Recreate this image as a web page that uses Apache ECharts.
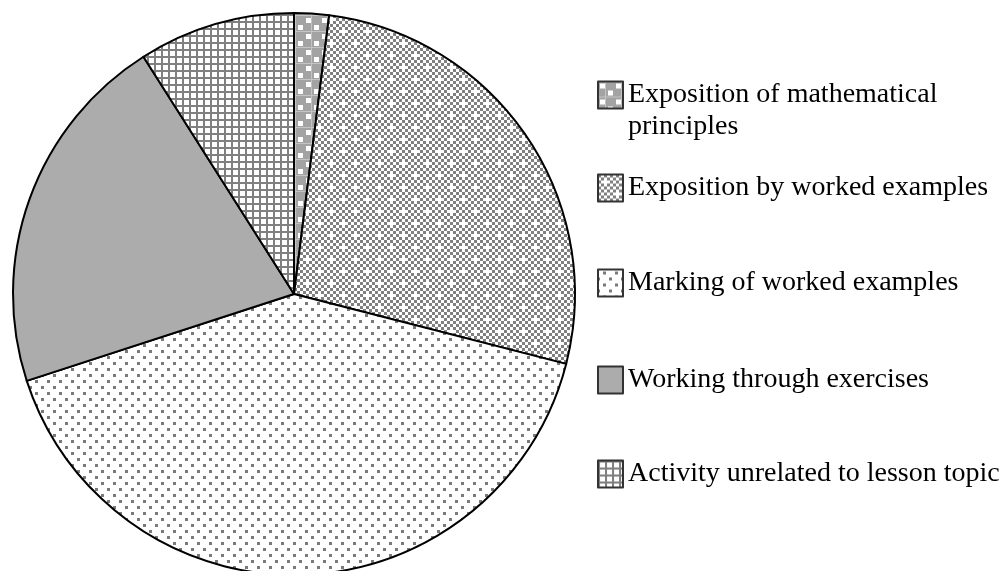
<!DOCTYPE html>
<html>
<head>
<meta charset="utf-8">
<script src="https://cdn.jsdelivr.net/npm/echarts@6/dist/echarts.min.js"></script>
<style>
  html, body { margin: 0; padding: 0; background: #fff; }
  #chart { width: 1001px; height: 571px; }
</style>
</head>
<body>
<div id="chart"></div>
<script>
const categories = [
  'Exposition of mathematical principles',
  'Exposition by worked examples',
  'Marking of worked examples',
  'Working through exercises',
  'Activity unrelated to lesson topic',
]
const shares = [2, 27, 41, 21, 9]

// legend rows (icon centre y in px)
const legendY = [95, 188, 283, 380, 474]

function tile(w, h, draw) {
  const c = document.createElement('canvas')
  c.width = w
  c.height = h
  const ctx = c.getContext('2d')
  draw(ctx)
  return { image: c, repeat: 'repeat' }
}

// grey with white squares
const patPrinciples = tile(16, 16, (ctx) => {
  ctx.fillStyle = '#a3a3a3'
  ctx.fillRect(0, 0, 16, 16)
  ctx.fillStyle = '#c4c4c4'
  ctx.fillRect(0, 15, 16, 1)
  ctx.fillRect(7, 0, 1, 16)
  ctx.fillStyle = '#ffffff'
  ctx.fillRect(2, 2, 5, 5)
  ctx.fillRect(10, 9, 5, 5)
})

// fine checkerboard
const patWorked = tile(24, 24, (ctx) => {
  ctx.fillStyle = '#ffffff'
  ctx.fillRect(0, 0, 24, 24)
  ctx.fillStyle = '#808080'
  for (let y = 0; y < 8; y++) {
    for (let x = 0; x < 8; x++) {
      if ((x + y) % 2 === 0) ctx.fillRect(x * 3, y * 3, 3, 3)
    }
  }
  ctx.fillStyle = '#ffffff'
  ctx.fillRect(6, 6, 3, 3)
  ctx.fillRect(18, 18, 3, 3)
})

// sparse dots
const patMarking = tile(12, 12, (ctx) => {
  ctx.fillStyle = '#ffffff'
  ctx.fillRect(0, 0, 12, 12)
  ctx.fillStyle = '#7a7a7a'
  ctx.fillRect(5, 2, 3, 3)
  ctx.fillRect(11, 8, 3, 3)
  ctx.fillRect(-1, 8, 3, 3)
})

// square grid
const patActivity = tile(7, 7, (ctx) => {
  ctx.fillStyle = '#ffffff'
  ctx.fillRect(0, 0, 7, 7)
  ctx.fillStyle = '#808080'
  ctx.fillRect(0, 0, 7, 2)
  ctx.fillRect(0, 0, 2, 7)
})

const fills = [patPrinciples, patWorked, patMarking, '#acacac', patActivity]

const chart = echarts.init(document.getElementById('chart'))

const textStyle = {
  fontFamily: '"Liberation Serif", "Times New Roman", serif',
  fontSize: 28,
  lineHeight: 32,
  color: '#000',
}

const legends = categories.map((name, i) => {
  const first = i === 0
  return {
    data: [{ name, icon: 'rect' }],
    left: 597,
    top: first ? legendY[i] - 48 : legendY[i] - 16,
    padding: 0,
    itemWidth: 25,
    itemHeight: 27,
    itemGap: 0,
    selectedMode: false,
    // blank first line keeps the icon level with the first text line
    formatter: first ? () => ' \nExposition of mathematical\nprinciples' : undefined,
    textStyle,
    itemStyle: { borderColor: '#333', borderWidth: 2 },
  }
})

chart.setOption({
  animation: false,
  backgroundColor: '#fff',
  legend: legends,
  series: [
    {
      type: 'pie',
      center: [294, 294],
      radius: 281,
      startAngle: 90,
      clockwise: true,
      label: { show: false },
      labelLine: { show: false },
      emphasis: { disabled: true },
      itemStyle: { borderColor: '#000', borderWidth: 2 },
      data: categories.map((name, i) => ({
        name,
        value: shares[i],
        itemStyle: { color: fills[i] },
      })),
    },
  ],
})
</script>
</body>
</html>
